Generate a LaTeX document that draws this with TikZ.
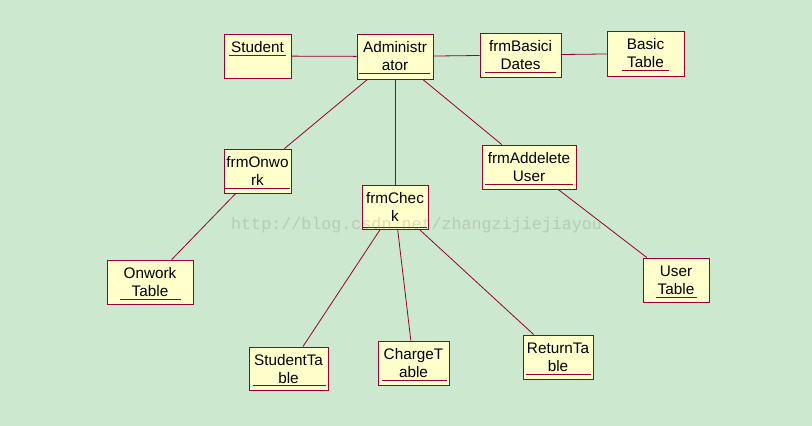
\documentclass[tikz,border=0pt]{standalone}
\usepackage{fontspec}
\setmainfont{Liberation Sans}
\newfontfamily\wmfont{Liberation Mono}
\usetikzlibrary{fit}
\definecolor{bg}{RGB}{204,232,207}
\definecolor{boxfill}{RGB}{255,255,204}
\definecolor{boxline}{RGB}{153,0,51}
\tikzset{
  umlbox/.style={draw=boxline, fill=boxfill, line width=0.9pt, inner sep=0pt},
  lbl/.style={anchor=base, inner sep=0pt, font=\fontsize{15.3pt}{18pt}\selectfont, text=black},
  ul/.style={draw=boxline, line width=0.9pt},
  conn/.style={draw=boxline, line width=0.8pt},
}
\begin{document}
\begin{tikzpicture}[x=1pt,y=-1pt]
\fill[bg] (0,0) rectangle (812,426);
\useasboundingbox (0,0) rectangle (812,426);

% boxes
\node[umlbox, fit={(224,34)(291,78)}] (student) {};
\node[umlbox, fit={(357,34)(433,79)}] (admin) {};
\node[umlbox, fit={(480,33)(561,77)}] (basici) {};
\node[umlbox, fit={(607,31)(684,76)}] (basic) {};
\node[umlbox, fit={(224,149)(291,193)}] (onwork) {};
\node[umlbox, fit={(362,185)(428,229)}] (check) {};
\node[umlbox, fit={(482,145)(576,189)}] (adddel) {};
\node[umlbox, fit={(107,260)(193,304)}] (onworkT) {};
\node[umlbox, fit={(249,347)(328,390)}] (studentT) {};
\node[umlbox, fit={(378,341)(449,385)}] (chargeT) {};
\node[umlbox, fit={(523,335)(593,379)}] (returnT) {};
\node[umlbox, fit={(643,258)(709,302)}] (userT) {};

% connectors
\draw[conn] (student) -- (admin);
\draw[conn] (admin) -- (basici);
\draw[conn] (basici) -- (basic);
\draw[conn] (admin) -- (onwork);
\draw[conn] (admin) -- (check);
\draw[conn] (admin) -- (adddel);
\draw[conn] (onwork) -- (onworkT);
\draw[conn] (adddel) -- (userT);
\draw[conn] (check) -- (studentT);
\draw[conn] (check) -- (chargeT);
\draw[conn] (check) -- (returnT);

% texts
\node[lbl] (student-a) at ([yshift=-19pt]student.north) {Student};
\node[lbl] (admin-a) at ([yshift=-19pt]admin.north) {Administr};
\node[lbl] (admin-b) at ([yshift=-36.5pt]admin.north) {ator};
\node[lbl] (basici-a) at ([yshift=-19pt]basici.north) {frmBasici};
\node[lbl] (basici-b) at ([yshift=-36.5pt]basici.north) {Dates};
\node[lbl] (basic-a) at ([yshift=-19pt]basic.north) {Basic};
\node[lbl] (basic-b) at ([yshift=-36.5pt]basic.north) {Table};
\node[lbl] (onwork-a) at ([yshift=-19pt]onwork.north) {frmOnwo};
\node[lbl] (onwork-b) at ([yshift=-36.5pt]onwork.north) {rk};
\node[lbl] (check-a) at ([yshift=-19pt]check.north) {frmChec};
\node[lbl] (check-b) at ([yshift=-36.5pt]check.north) {k};
\node[lbl] (adddel-a) at ([yshift=-19pt]adddel.north) {frmAddelete};
\node[lbl] (adddel-b) at ([yshift=-36.5pt]adddel.north) {User};
\node[lbl] (onworkT-a) at ([yshift=-19pt]onworkT.north) {Onwork};
\node[lbl] (onworkT-b) at ([yshift=-36.5pt]onworkT.north) {Table};
\node[lbl] (studentT-a) at ([yshift=-19pt]studentT.north) {StudentTa};
\node[lbl] (studentT-b) at ([yshift=-36.5pt]studentT.north) {ble};
\node[lbl] (chargeT-a) at ([yshift=-19pt]chargeT.north) {ChargeT};
\node[lbl] (chargeT-b) at ([yshift=-36.5pt]chargeT.north) {able};
\node[lbl] (returnT-a) at ([yshift=-19pt]returnT.north) {ReturnTa};
\node[lbl] (returnT-b) at ([yshift=-36.5pt]returnT.north) {ble};
\node[lbl] (userT-a) at ([yshift=-19pt]userT.north) {User};
\node[lbl] (userT-b) at ([yshift=-36.5pt]userT.north) {Table};

% underlines
\draw[ul] (229,55.7) -- (286,55.7);
\draw[ul] (359,73.5) -- (430,73.5);
\draw[ul] (485,72.3) -- (556,72.3);
\draw[ul] (622,70.5) -- (669,70.5);
\draw[ul] (225,188.5) -- (290,188.5);
\draw[ul] (363,227.3) -- (427,227.3);
\draw[ul] (485,184.3) -- (573,184.3);
\draw[ul] (120,299.3) -- (181,299.3);
\draw[ul] (253,385) -- (326,385);
\draw[ul] (382,380.3) -- (447,380.3);
\draw[ul] (526,374.3) -- (591,374.3);
\draw[ul] (656,297.3) -- (697,297.3);

% watermark
\node[anchor=base west, inner sep=0pt, text=gray, opacity=0.28,
      font=\wmfont\fontsize{16.7pt}{18pt}\selectfont] (wm) at (231,229.5)
      {http://blog.csdn.net/zhangzijiejiayou};
\end{tikzpicture}
\end{document}
